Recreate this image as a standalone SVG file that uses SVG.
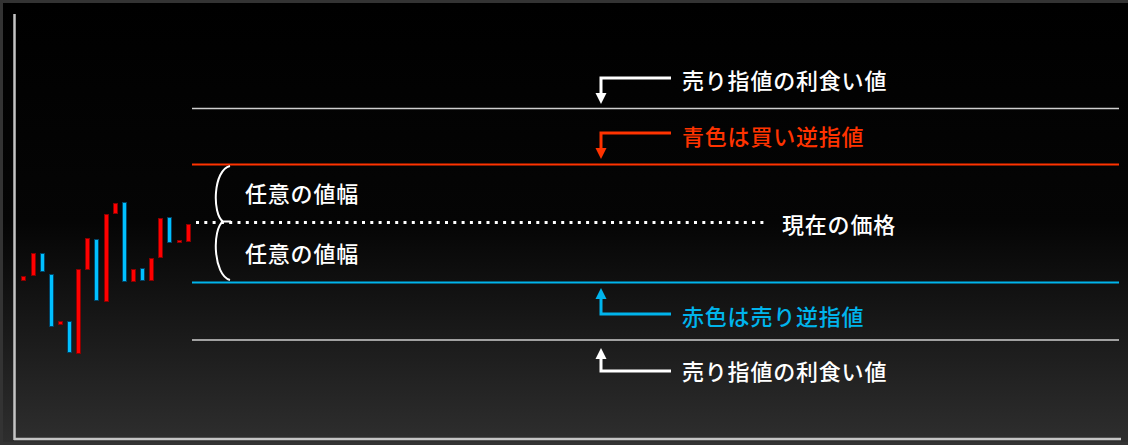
<svg xmlns="http://www.w3.org/2000/svg" width="1128" height="445" viewBox="0 0 1128 445">
<defs>
<linearGradient id="bg" x1="0" y1="0" x2="0" y2="1">
<stop offset="0" stop-color="#000000"/>
<stop offset="0.5" stop-color="#050505"/>
<stop offset="1" stop-color="#2e2e2e"/>
</linearGradient>
</defs>
<style>
.lbl{font-family:"Noto Sans CJK JP","Noto Sans",sans-serif;font-size:22px;font-weight:500;letter-spacing:0.8px}
.w{fill:#ffffff}
.r{fill:#ff3300}
.b{fill:#00b4ec}
.cr{fill:#ff0000;stroke:#8a0000;stroke-width:1}
.cb{fill:#00c0ff;stroke:#004466;stroke-width:1}
.ar{fill:none;stroke-width:3}
</style>
<rect x="0" y="0" width="1128" height="445" fill="#333333"/>
<rect x="3" y="3" width="1125" height="439" fill="url(#bg)"/>
<line x1="14.5" y1="14" x2="14.5" y2="440" stroke="#c4c4c4" stroke-width="2.5"/>
<line x1="14" y1="439" x2="1121" y2="439" stroke="#c4c4c4" stroke-width="2.5"/>
<g id="candles">
<rect class="cr" x="21.5" y="276.5" width="4" height="4"/>
<rect class="cr" x="31.5" y="253.5" width="4" height="22"/>
<rect class="cb" x="40.5" y="253.5" width="4" height="18"/>
<rect class="cb" x="49.5" y="274.5" width="4" height="52"/>
<rect class="cr" x="58.5" y="321.5" width="4" height="3"/>
<rect class="cb" x="67.5" y="321.5" width="4" height="31"/>
<rect class="cr" x="76.5" y="269.5" width="4" height="84"/>
<rect class="cr" x="85.5" y="238.5" width="4" height="31"/>
<rect class="cb" x="94.5" y="239.5" width="4" height="61"/>
<rect class="cr" x="104.5" y="214.5" width="4" height="87"/>
<rect class="cr" x="113.5" y="203.5" width="4" height="10"/>
<rect class="cb" x="122.5" y="202.5" width="4" height="79"/>
<rect class="cr" x="131.5" y="269.5" width="4" height="12"/>
<rect class="cb" x="140.5" y="268.5" width="4" height="12"/>
<rect class="cr" x="149.5" y="258.5" width="4" height="22"/>
<rect class="cr" x="158.5" y="218.5" width="4" height="39"/>
<rect class="cb" x="167.5" y="217.5" width="4" height="25"/>
<rect class="cr" x="177.5" y="240.5" width="4" height="2"/>
<rect class="cr" x="186.5" y="224.5" width="4" height="17"/>
</g>
<g id="levels">
<line x1="192" y1="108.5" x2="1119" y2="108.5" stroke="#cfcfcf" stroke-width="1.5"/>
<line x1="192" y1="164.5" x2="1119" y2="164.5" stroke="#ff3300" stroke-width="2"/>
<line x1="192" y1="282.5" x2="1119" y2="282.5" stroke="#00b4ec" stroke-width="2"/>
<line x1="192" y1="340" x2="1119" y2="340" stroke="#cfcfcf" stroke-width="1.5"/>
<line x1="196" y1="222.5" x2="766" y2="222.5" stroke="#ffffff" stroke-width="3" stroke-dasharray="3 5.3"/>
</g>
<g id="brace">
<path d="M230,166 C213,170 212,214 223,221.5 L231,221.5 M223,221.5 C212,229 213,275 230,280" fill="none" stroke="#ffffff" stroke-width="2"/>
</g>
<g id="connectors">
<path class="ar" d="M671,78 L601,78 L601,95" stroke="#ffffff"/>
<path d="M595.5,93 L606.5,93 L601,104 Z" fill="#ffffff"/>
<path class="ar" d="M671,133 L601,133 L601,150" stroke="#ff3300"/>
<path d="M595.5,148 L606.5,148 L601,159 Z" fill="#ff3300"/>
<path class="ar" d="M671,314 L601,314 L601,297" stroke="#00b4ec"/>
<path d="M595.5,299 L606.5,299 L601,288 Z" fill="#00b4ec"/>
<path class="ar" d="M671,371 L601,371 L601,357" stroke="#ffffff"/>
<path d="M595.5,359 L606.5,359 L601,348 Z" fill="#ffffff"/>
</g>
<g id="labels">
<text class="lbl w" x="682" y="89">売り指値の利食い値</text>
<text class="lbl r" x="682" y="145">青色は買い逆指値</text>
<text class="lbl w" x="245" y="202">任意の値幅</text>
<text class="lbl w" x="782" y="233">現在の価格</text>
<text class="lbl w" x="245" y="262">任意の値幅</text>
<text class="lbl b" x="682" y="325">赤色は売り逆指値</text>
<text class="lbl w" x="682" y="380">売り指値の利食い値</text>
</g>
</svg>
